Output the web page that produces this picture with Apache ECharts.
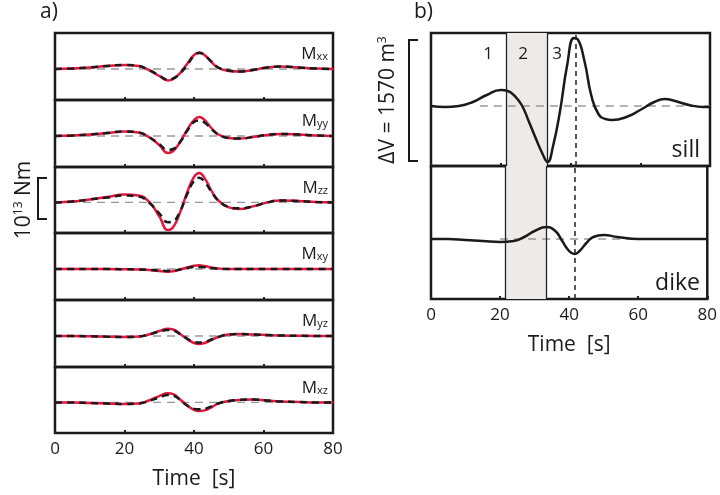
<!DOCTYPE html>
<html><head><meta charset="utf-8">
<script src="https://cdn.jsdelivr.net/npm/echarts@6/dist/echarts.min.js"></script>
<style>html,body{margin:0;padding:0;background:#fff}#c{width:720px;height:495px}</style>
</head><body><div id="c"></div>
<script>
const tL=[0,5,10,15,20,24,27,30,32.5,34,36,38,40,41.5,43,45,47,50,53,57,61,65,70,75,80];
const compNames=['xx','yy','zz','xy','yz','xz'];
const redVals=[
[0,0.5,1.5,3,4,3,-1,-7,-11.5,-10,-4,5,14,16.5,14,7,1,-2,-2.5,-1,1.5,2.5,1.5,0.5,0],
[0,0.5,1.5,3,4.5,3.5,-1,-9,-17,-15,-6,6,16,19,16,8,1.5,-2,-2.6,-1,1,2,1.5,0.5,0],
[0,1,3,5.5,8,7,1,-14,-28,-25,-10,10,26,30,25,12,2,-5,-6.6,-4,0,2,1.5,0.5,0],
[0,0,0,0,-0.3,-0.5,-1,-2,-2.7,-2.3,-0.5,1.5,3.2,3.7,3,1.5,0.5,0,0,0,0,0,0,0,0],
[0,0,-0.3,-0.7,-1,-0.5,1.5,5,7.3,6.5,2,-3,-7,-8,-7,-4,-1,1.5,2,1.5,1,0.5,0.3,0,0],
[0,0,-0.5,-1,-1.5,-1,2,6.5,9.3,8.5,3,-3,-7.5,-8.7,-8,-5,-1,1.5,2.5,3,2,1,0.5,0,0]];
const blackVals=[
[0,0.5,1.5,3,4,3,-1,-6.5,-10.5,-9.5,-4.5,4,13,16,14,7.5,1.5,-1.5,-2.5,-1,1.5,2.5,1.5,0.5,0],
[0,0.5,1.5,3,4.5,3.5,-1,-8,-14,-13,-6,5,14,15.5,13.5,7,1.5,-2,-2.6,-1,1,2,1.5,0.5,0],
[0,1,3,5,7,6,0,-11,-20,-19,-9,8,22,25,21,11,2,-4.5,-6,-4,0,2,1.5,0.5,0],
[0,0,0,0,-0.3,-0.5,-1,-1.5,-2,-1.8,-0.5,1,2,2,1.8,1,0.3,0,0,0,0,0,0,0,0],
[0,0,-0.3,-0.7,-1,-0.5,1.5,4.5,6,5.5,2,-2.5,-6,-6.5,-6,-3.5,-1,1.5,2,1.5,1,0.5,0.3,0,0],
[0,0,-0.5,-1,-1.5,-1,1.5,5,7.5,7,2.5,-3,-6.5,-7,-6.5,-4,-1,1.5,2.5,3,2,1,0.5,0,0]];
const tSill=[0,4,8,12,16,20,22,24,26,28,30,32,33.4,35,37,39,41,42,44,46,48,50,52,56,60,64,67,70,74,78,80];
const sillVals=[0,-1,0,4,11,16,15,10,1,-15,-32,-48,-56,-40,-5,40,68,67,45,10,-8,-13,-14,-11,-4,4,7,5,1,-1,-1];
const tDike=[0,5,10,15,20,24,27,30,33.4,36,38,40,41.5,43,45,47,50,54,60,70,80];
const dikeVals=[0,0,-1,-2,-3,-2,2,8,12,8,-2,-12,-15,-12,-4,2,4,2,0,0,0];
const xTicks=[0,20,40,60,80];
const phaseBounds=[21.6,33.4,41.5];

const grids=[],xAxes=[],yAxes=[],series=[];
const zip=(t,v)=>t.map((x,i)=>[x,v[i]]);
const tops=[33,100,167,233,300,367];
for(let i=0;i<6;i++){
  grids.push({left:55,width:278,top:tops[i],height:(i<5?tops[i+1]:433)-tops[i],show:true,borderColor:'#1a1a1a',borderWidth:2.5,backgroundColor:'transparent'});
}
grids.push({left:431,width:279,top:33,height:133,show:true,borderColor:'#1a1a1a',borderWidth:2.5});
grids.push({left:431,width:279,top:166,height:133,show:true,borderColor:'#1a1a1a',borderWidth:2.5});
for(let g=0;g<8;g++){
  const last=(g===5||g===7);
  xAxes.push({gridIndex:g,type:'value',min:0,max:80,interval:20,position:'bottom',axisLine:{show:false,onZero:false},
    axisTick:{show:true,inside:true,length:3,lineStyle:{color:'#222',width:2}},
    splitLine:{show:false},
    axisLabel:{show:last,fontSize:17,color:'#1a1a1a',fontFamily:'Open Sans',margin:8},
    name:last?'Time  [s]':'',nameLocation:'middle',nameGap:36,
    nameTextStyle:{fontSize:21,color:'#1a1a1a',fontFamily:'Open Sans'}});
  const r=g<6?[-31,36]:[-60,73];
  yAxes.push({gridIndex:g,type:'value',min:r[0],max:r[1],show:false});
}
for(let i=0;i<6;i++){
  series.push({type:'line',xAxisIndex:i,yAxisIndex:i,data:[[0,0],[80,0]],symbol:'none',silent:true,
    lineStyle:{color:'#999',width:1.3,type:[8,6]},z:1});
  series.push({type:'line',xAxisIndex:i,yAxisIndex:i,data:zip(tL,redVals[i]),symbol:'none',smooth:0.5,
    lineStyle:{color:'#e3173e',width:2.5},z:2});
  series.push({type:'line',xAxisIndex:i,yAxisIndex:i,data:zip(tL,blackVals[i]),symbol:'none',smooth:0.5,
    lineStyle:{color:'#1a1a1a',width:2.5,type:[7,5]},z:3});
}
const vlines=(g)=>({silent:true,symbol:'none',label:{show:false},data:[
  {xAxis:phaseBounds[0],lineStyle:{color:'#222',width:1.3,type:'solid'}},
  {xAxis:phaseBounds[1],lineStyle:{color:'#222',width:1.3,type:'solid'}},
  {xAxis:phaseBounds[2],lineStyle:{color:'#222',width:1.5,type:[5,4]}}]});
series.push({type:'line',xAxisIndex:6,yAxisIndex:6,data:[[14,0],[80,0]],symbol:'none',silent:true,lineStyle:{color:'#999',width:1.3,type:[8,6]},z:1,
  markArea:{silent:true,itemStyle:{color:'#efeaea'},data:[[{xAxis:phaseBounds[0]},{xAxis:phaseBounds[1]}]]},markLine:vlines(6)});
series.push({type:'line',xAxisIndex:6,yAxisIndex:6,data:zip(tSill,sillVals),symbol:'none',smooth:0.5,lineStyle:{color:'#1a1a1a',width:2.5},z:3});
series.push({type:'line',xAxisIndex:7,yAxisIndex:7,data:[[20,0],[80,0]],symbol:'none',silent:true,lineStyle:{color:'#999',width:1.3,type:[8,6]},z:1,
  markArea:{silent:true,itemStyle:{color:'#efeaea'},data:[[{xAxis:phaseBounds[0]},{xAxis:phaseBounds[1]}]]},markLine:vlines(7)});
series.push({type:'line',xAxisIndex:7,yAxisIndex:7,data:zip(tDike,dikeVals),symbol:'none',smooth:0.5,lineStyle:{color:'#1a1a1a',width:2.5},z:3});

const F='Open Sans';
const graphics=[
  {type:'text',left:40,top:2,style:{text:'a)',fontSize:21,fill:'#1a1a1a',fontFamily:F}},
  {type:'text',left:414,top:2,style:{text:'b)',fontSize:21,fill:'#1a1a1a',fontFamily:F}},
  {type:'text',x:488,y:54,style:{text:'1',fontSize:17,fill:'#1a1a1a',fontFamily:F,align:'center',verticalAlign:'middle'}},
  {type:'text',x:523,y:54,style:{text:'2',fontSize:17,fill:'#1a1a1a',fontFamily:F,align:'center',verticalAlign:'middle'}},
  {type:'text',x:557,y:54,style:{text:'3',fontSize:17,fill:'#1a1a1a',fontFamily:F,align:'center',verticalAlign:'middle'}},
  {type:'text',x:700,y:150,style:{text:'sill',fontSize:23,fill:'#1a1a1a',fontFamily:F,align:'right',verticalAlign:'middle'}},
  {type:'text',x:700,y:283,style:{text:'dike',fontSize:23,fill:'#1a1a1a',fontFamily:F,align:'right',verticalAlign:'middle'}},
  {type:'polyline',shape:{points:[[47,178],[38,178],[38,219],[47,219]]},style:{stroke:'#1a1a1a',lineWidth:2,fill:null}},
  {type:'text',x:24,y:200,rotation:Math.PI/2,style:{text:'{a|10}{s|13}{a| Nm}',align:'center',verticalAlign:'middle',fill:'#1a1a1a',
    rich:{a:{fontSize:21,fontFamily:F,fill:'#1a1a1a'},s:{fontSize:12,fontFamily:F,fill:'#1a1a1a',padding:[0,0,10,0]}}}},
  {type:'polyline',shape:{points:[[418,40],[409,40],[409,161],[418,161]]},style:{stroke:'#1a1a1a',lineWidth:2,fill:null}},
  {type:'text',x:388,y:100,rotation:Math.PI/2,style:{text:'{a|ΔV = 1570 m}{s|3}',align:'center',verticalAlign:'middle',fill:'#1a1a1a',
    rich:{a:{fontSize:21,fontFamily:F,fill:'#1a1a1a'},s:{fontSize:12,fontFamily:F,fill:'#1a1a1a',padding:[0,0,10,0]}}}}
];
for(let i=0;i<6;i++){
  graphics.push({type:'text',x:328,y:tops[i]+21,style:{text:'{m|M}{s|'+compNames[i]+'}',align:'right',verticalAlign:'middle',
    rich:{m:{fontSize:17,fontFamily:F,fill:'#1a1a1a'},s:{fontSize:11,fontFamily:F,fill:'#1a1a1a',padding:[6,0,0,0]}}}});
}
graphics.forEach(g=>{g.z=100;});
const chart=echarts.init(document.getElementById('c'));
chart.setOption({animation:false,grid:grids,xAxis:xAxes,yAxis:yAxes,series:series,graphic:graphics});
</script></body></html>
